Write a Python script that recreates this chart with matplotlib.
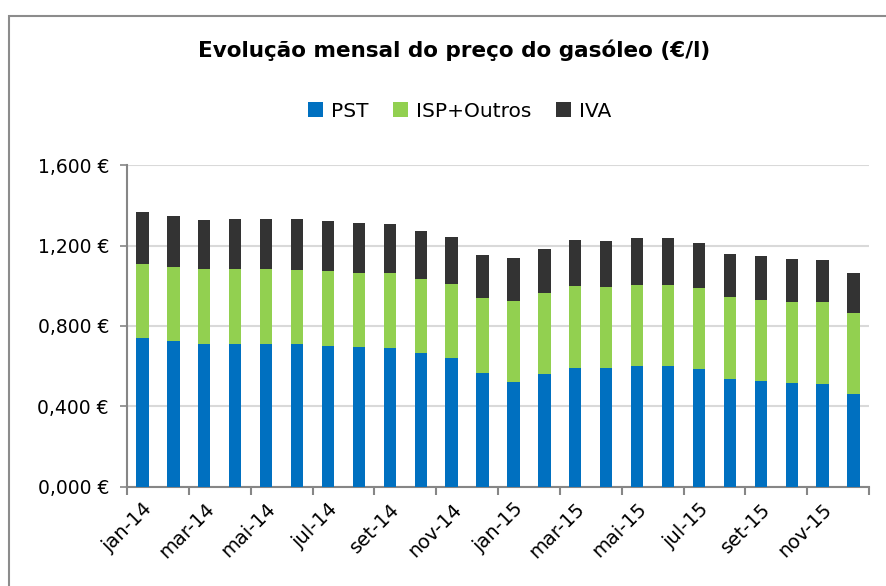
import matplotlib.pyplot as plt
import numpy as np
from matplotlib.patches import Rectangle
from matplotlib.ticker import FuncFormatter

months = ["jan-14", "fev-14", "mar-14", "abr-14", "mai-14", "jun-14",
          "jul-14", "ago-14", "set-14", "out-14", "nov-14", "dez-14",
          "jan-15", "fev-15", "mar-15", "abr-15", "mai-15", "jun-15",
          "jul-15", "ago-15", "set-15", "out-15", "nov-15", "dez-15"]

# top of each stack segment
pst_top = [0.738, 0.725, 0.712, 0.712, 0.712, 0.712, 0.703, 0.697, 0.692, 0.664, 0.640, 0.567,
           0.522, 0.561, 0.592, 0.589, 0.602, 0.602, 0.584, 0.539, 0.527, 0.516, 0.512, 0.463]
isp_top = [1.108, 1.095, 1.081, 1.083, 1.081, 1.080, 1.075, 1.065, 1.062, 1.033, 1.010, 0.937,
           0.922, 0.962, 0.997, 0.993, 1.003, 1.003, 0.988, 0.942, 0.930, 0.920, 0.917, 0.864]
total = [1.365, 1.347, 1.329, 1.332, 1.332, 1.330, 1.322, 1.312, 1.305, 1.274, 1.242, 1.153,
         1.136, 1.184, 1.226, 1.222, 1.236, 1.236, 1.214, 1.159, 1.146, 1.133, 1.129, 1.065]

pst = np.array(pst_top)
isp = np.array(isp_top) - pst
iva = np.array(total) - np.array(isp_top)

series = ["PST", "ISP+Outros", "IVA"]
colors = ["#0070C0", "#92D050", "#333333"]

fig = plt.figure(figsize=(8.87, 5.86), dpi=100)
ax = fig.add_axes([0.1432, 0.169, 0.8365, 0.5494])

x = np.arange(len(months))
w = 0.4
ax.bar(x, pst, w, color=colors[0], label=series[0], zorder=3)
ax.bar(x, isp, w, bottom=pst, color=colors[1], label=series[1], zorder=3)
ax.bar(x, iva, w, bottom=pst + isp, color=colors[2], label=series[2], zorder=3)

ax.set_xlim(-0.5, len(months) - 0.5)
ax.set_ylim(0, 1.6)
ax.set_yticks([0, 0.4, 0.8, 1.2, 1.6])
ax.yaxis.set_major_formatter(FuncFormatter(lambda v, p: f"{v:.3f}".replace(".", ",") + " €"))
ax.grid(axis="y", color="#d9d9d9", lw=1.5, zorder=0)

ax.set_xticks(x[::2])
ax.set_xticklabels(months[::2], rotation=45, ha="right", rotation_mode="anchor", fontsize=14)
ax.tick_params(axis="x", length=0, pad=9)
ax.set_xticks(np.arange(-0.5, len(months), 2), minor=True)
ax.tick_params(axis="x", which="minor", length=6, width=1.5, color="#868686")
ax.tick_params(axis="y", labelsize=13.5, length=5, width=1.2, color="#868686", pad=8)

for s in ["top", "right"]:
    ax.spines[s].set_visible(False)
for s in ["left", "bottom"]:
    ax.spines[s].set_color("#868686")
    ax.spines[s].set_linewidth(1.5)

fig.text(0.512, 0.915, "Evolução mensal do preço do gasóleo (€/l)",
         ha="center", va="center", fontsize=15.5, fontweight="bold")
fig.legend(loc="center", bbox_to_anchor=(0.518, 0.81), ncol=3, frameon=False,
           fontsize=14.5, handlelength=0.75, handleheight=0.75, handletextpad=0.4,
           columnspacing=1.2)

fig.patches.append(Rectangle((9 / 887, -0.05), 1.05, (586 - 16) / 586 + 0.05,
                             transform=fig.transFigure, fill=False,
                             edgecolor="#8c8c8c", lw=1.5))

plt.savefig("out.png", dpi=100)
